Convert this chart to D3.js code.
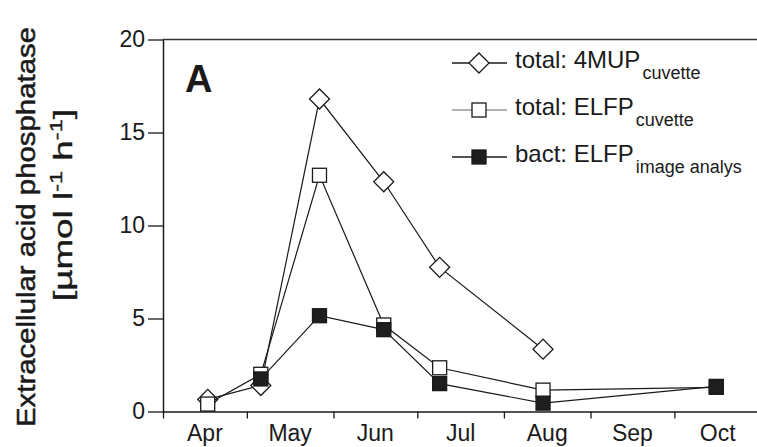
<!DOCTYPE html>
<html><head><meta charset="utf-8">
<script src="https://cdn.jsdelivr.net/npm/d3@7"></script>
<style>
body{margin:0;background:#fff;}
svg{display:block;font-family:"Liberation Sans",Arial,sans-serif;}
</style></head>
<body>
<svg id="c" width="757" height="447"></svg>
<script>
// ---- data ----
const sampleDates = ["1995-04-17","1995-05-06","1995-05-27","1995-06-19","1995-07-09","1995-08-15","1995-10-16"];
const total4MUP   = [0.65, 1.4, 16.8, 12.35, 7.75, 3.35, null];
const totalELFP   = [0.4, 2.0, 12.7, 4.65, 2.35, 1.15, 1.3];
const bactELFP    = [null, 1.75, 5.15, 4.4, 1.5, 0.45, 1.35];
const monthLabels = ["Apr","May","Jun","Jul","Aug","Sep","Oct"];
const monthStarts = ["1995-04-01","1995-05-01","1995-06-01","1995-07-01","1995-08-01","1995-09-01","1995-10-01","1995-11-01"];
const yTicks = [0,5,10,15,20];

const parse = d3.timeParse("%Y-%m-%d");
const svg = d3.select("#c");
const ink = "#1a1a1a";

const x = d3.scaleTime().domain([parse("1995-04-01"), parse("1995-11-01")]).range([163, 761]);
const y = d3.scaleLinear().domain([0, 20]).range([411.5, 39.5]);

// top frame line
svg.append("line").attr("x1", x.range()[0]).attr("x2", 757)
  .attr("y1", y(20)).attr("y2", y(20)).attr("stroke", "#333").attr("stroke-width", 1.3);

// y axis
const ya = svg.append("g").attr("transform", `translate(${x.range()[0]},0)`)
  .call(d3.axisLeft(y).tickValues(yTicks).tickSize(15).tickPadding(3).tickSizeOuter(0));
ya.select(".domain").attr("stroke", ink).attr("stroke-width", 1.5);
ya.selectAll(".tick line").attr("stroke", ink).attr("stroke-width", 1.3);
ya.selectAll(".tick text").attr("font-size", 23).attr("fill", ink)
  .attr("font-family", "Liberation Sans, Arial, sans-serif");

// x axis: ticks at month starts
const starts = monthStarts.map(parse);
const xa = svg.append("g").attr("transform", `translate(0,${y(0)})`)
  .call(d3.axisBottom(x).tickValues(starts).tickSize(7).tickFormat("").tickSizeOuter(0));
xa.select(".domain").attr("stroke", ink).attr("stroke-width", 1.5);
xa.selectAll(".tick line").attr("stroke", ink).attr("stroke-width", 1.3);

// month labels at mid-month
const mids = monthLabels.map((m, i) => new Date((starts[i].getTime() + starts[i + 1].getTime()) / 2));
svg.append("g").selectAll("text").data(monthLabels).join("text")
  .attr("x", (d, i) => x(mids[i])).attr("y", 441)
  .attr("text-anchor", "middle").attr("font-size", 23).attr("fill", ink)
  .text(d => d);

// y title
svg.append("text").attr("transform", "translate(35,227) rotate(-90)")
  .attr("text-anchor", "middle").attr("font-size", 26).attr("fill", ink)
  .attr("stroke", ink).attr("stroke-width", 0.5)
  .attr("textLength", 400).attr("lengthAdjust", "spacingAndGlyphs")
  .text("Extracellular acid phosphatase");
const t2 = svg.append("text").attr("transform", "translate(72,205) rotate(-90)")
  .attr("text-anchor", "middle").attr("font-size", 25).attr("fill", ink)
  .attr("stroke", ink).attr("stroke-width", 0.4)
  .attr("textLength", 192).attr("lengthAdjust", "spacingAndGlyphs");
t2.append("tspan").text("[µmol l");
t2.append("tspan").attr("font-size", 16).attr("dy", -10).text("-1");
t2.append("tspan").attr("dy", 10).text(" h");
t2.append("tspan").attr("font-size", 16).attr("dy", -10).text("-1");
t2.append("tspan").attr("dy", 10).text("]");

// panel letter
svg.append("text").attr("x", 185).attr("y", 92).attr("font-size", 38)
  .attr("font-weight", "bold").attr("fill", ink).text("A");

// series
const dates = sampleDates.map(parse);
function seriesData(vals) {
  return vals.map((v, i) => ({d: dates[i], v})).filter(p => p.v !== null);
}
const line = d3.line().x(p => x(p.d)).y(p => y(p.v));
const diamond = d3.symbol().type(d3.symbolSquare).size(200);

function drawSeries(vals, kind, lw) {
  const pts = seriesData(vals);
  const g = svg.append("g");
  g.append("path").datum(pts).attr("d", line).attr("fill", "none")
    .attr("stroke", ink).attr("stroke-width", lw);
  drawMarkers(g, pts.map(p => [x(p.d), y(p.v)]), kind);
}
function drawMarkers(g, xy, kind) {
  xy.forEach(([cx, cy]) => {
    if (kind === "diamond") {
      g.append("path").attr("d", diamond())
        .attr("transform", `translate(${cx},${cy}) rotate(45)`)
        .attr("fill", "#fff").attr("stroke", ink).attr("stroke-width", 1.3);
    } else {
      g.append("rect").attr("x", cx - 7).attr("y", cy - 7).attr("width", 14).attr("height", 14)
        .attr("fill", kind === "filled" ? "#1e1e1e" : "#fff")
        .attr("stroke", ink).attr("stroke-width", 1.3);
    }
  });
}
drawSeries(total4MUP, "diamond", 1.2);
drawSeries(totalELFP, "open", 1.2);
drawSeries(bactELFP, "filled", 1.2);

// legend
const legend = [
  {kind: "diamond", main: "total: 4MUP", sub: "cuvette", ly: 63, ty: 68, stroke: ink, lw: 1.3},
  {kind: "open", main: "total: ELFP", sub: "cuvette", ly: 110, ty: 114.5, stroke: "#666", lw: 1},
  {kind: "filled", main: "bact: ELFP", sub: "image analys", ly: 157, ty: 161.5, stroke: ink, lw: 1.3}
];
legend.forEach(L => {
  const g = svg.append("g");
  g.append("line").attr("x1", 452).attr("x2", 507).attr("y1", L.ly).attr("y2", L.ly)
    .attr("stroke", L.stroke).attr("stroke-width", L.lw);
  drawMarkers(g, [[479, L.ly]], L.kind);
  const t = g.append("text").attr("x", 515).attr("y", L.ty).attr("font-size", 24).attr("fill", ink);
  t.append("tspan").text(L.main);
  t.append("tspan").attr("font-size", 18).attr("dy", 11).attr("dx", 2).text(L.sub);
});
</script>
</body></html>
